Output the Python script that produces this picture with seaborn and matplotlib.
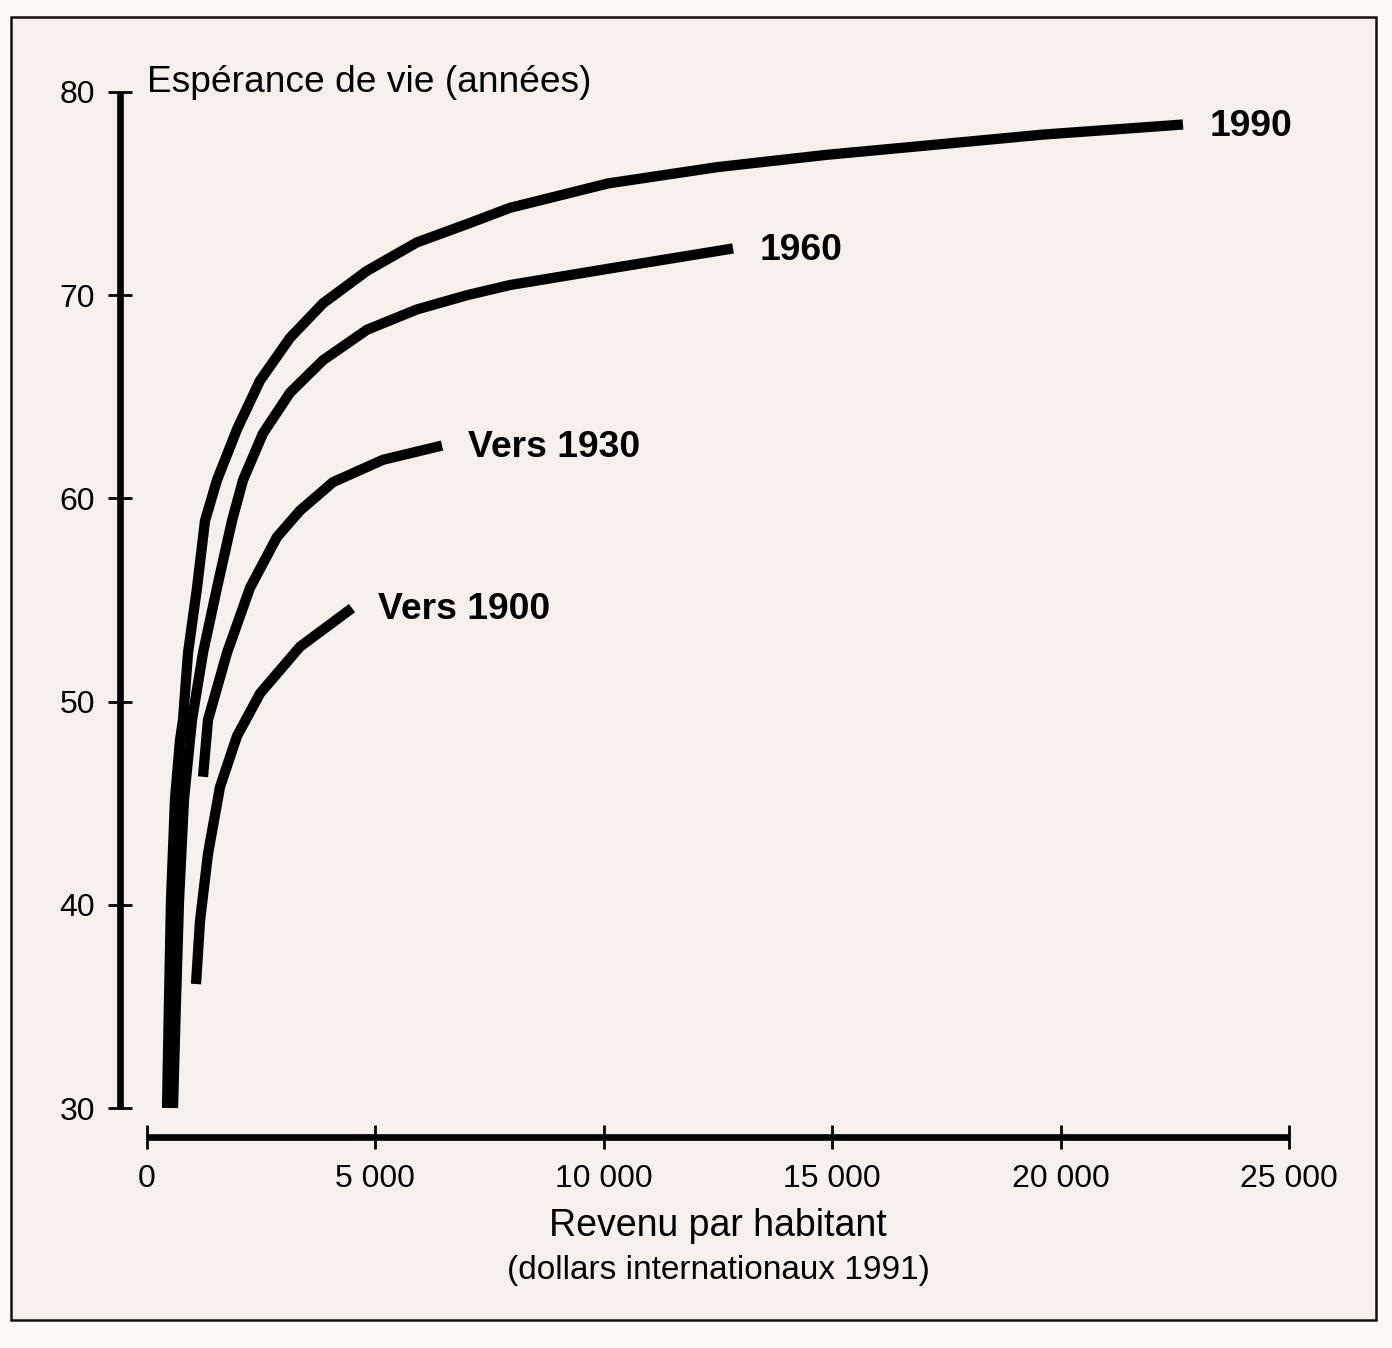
import matplotlib
matplotlib.use("Agg")
import matplotlib.pyplot as plt
import seaborn as sns
import pandas as pd
from matplotlib.patches import Rectangle

# income per head (1991 international dollars) and life expectancy (years)
inc_1990 = [438, 482, 525, 613, 722, 788, 898, 1095, 1270, 1532, 1970, 2474,
            3130, 3853, 4816, 5911, 7005, 7946, 10092, 12478, 14842, 17229,
            19593, 22679]
le_1990 = [30.0, 35.3, 40.2, 45.2, 48.1, 49.1, 52.4, 55.6, 58.9, 60.9, 63.4, 65.8,
           67.9, 69.6, 71.2, 72.6, 73.5, 74.3, 75.5, 76.3, 76.9, 77.4,
           77.9, 78.4]

inc_1960 = [569, 635, 701, 810, 985, 1226, 1532, 1861, 2102, 2539, 3130, 3853,
            4816, 5911, 7005, 7946, 10092, 12828]
le_1960 = [30.0, 35.3, 40.2, 45.2, 49.1, 52.4, 55.6, 58.9, 60.9, 63.2, 65.2, 66.8,
           68.3, 69.3, 70.0, 70.5, 71.3, 72.3]

inc_1930 = [1226, 1335, 1751, 2255, 2846, 3349, 4072, 5166, 6458]
le_1930 = [46.3, 49.1, 52.4, 55.6, 58.1, 59.4, 60.8, 61.9, 62.6]

inc_1900 = [1073, 1160, 1335, 1598, 1970, 2474, 3349, 4488]
le_1900 = [36.1, 39.2, 42.5, 45.8, 48.3, 50.4, 52.7, 54.6]

periods = ["1990", "1960", "Vers 1930", "Vers 1900"]
incomes = [inc_1990, inc_1960, inc_1930, inc_1900]
lifes = [le_1990, le_1960, le_1930, le_1900]

x_ticks = [0, 5000, 10000, 15000, 20000, 25000]
x_tick_labels = ["0", "5 000", "10 000", "15 000", "20 000", "25 000"]
y_ticks = [30, 40, 50, 60, 70, 80]

rows = []
for name, xs, ys in zip(periods, incomes, lifes):
    for xv, yv in zip(xs, ys):
        rows.append({"period": name, "revenu": xv, "esperance": yv})
df = pd.DataFrame(rows)

sns.set_theme(style="ticks")
plt.rcParams["font.family"] = ["Liberation Sans", "DejaVu Sans"]

W, H = 1392, 1348
fig = plt.figure(figsize=(W / 100, H / 100), dpi=100, facecolor="#fbfaf8")

# scanned frame
fig.patches.append(Rectangle((11 / W, 1 - 1320 / H), (1376 - 11) / W, (1320 - 17) / H,
                             transform=fig.transFigure, facecolor="#f6f0ec",
                             edgecolor="#111111", linewidth=1.8, zorder=-5))

ax = fig.add_axes([147 / W, 1 - 1108 / H, (1289 - 147) / W, (1108 - 92) / H])
ax.set_facecolor("none")
ax.set_zorder(2)

sns.lineplot(data=df, x="revenu", y="esperance", hue="period", units="period",
             estimator=None, sort=False, palette={p: "black" for p in periods},
             linewidth=7.4, legend=False, ax=ax, solid_capstyle="butt",
             solid_joinstyle="round", clip_on=False)

ax.set_xlim(0, 25000)
ax.set_ylim(30, 80)

for sp in ["top", "right"]:
    ax.spines[sp].set_visible(False)
ax.spines["left"].set_position(("outward", 19.5))
ax.spines["bottom"].set_position(("outward", 21))
ax.spines["left"].set_bounds(30, 80)
ax.spines["bottom"].set_bounds(0, 25000)
for sp in ["left", "bottom"]:
    ax.spines[sp].set_linewidth(4.8)
    ax.spines[sp].set_color("black")
    ax.spines[sp].set_capstyle("butt")

ax.set_xticks(x_ticks)
ax.set_xticklabels(x_tick_labels)
ax.set_yticks(y_ticks)
ax.tick_params(axis="both", direction="inout", length=17, width=2, color="black",
               labelsize=23, labelcolor="black")
ax.tick_params(axis="y", pad=9.5)
ax.tick_params(axis="x", pad=10.5)
ax.set_xlabel("")
ax.set_ylabel("")

# curve labels
for name, xs, ys in zip(periods, incomes, lifes):
    ax.annotate(name, xy=(xs[-1], ys[-1]), xytext=(19, -1.2), textcoords="offset points",
                ha="left", va="center", fontsize=26.8, fontweight="bold", color="black",
                annotation_clip=False)

fig.text(147 / W, 1 - 82 / H, "Espérance de vie (années)", ha="left", va="center",
         fontsize=26.7, color="black")
fig.text(718 / W, 1 - 1226 / H, "Revenu par habitant", ha="center", va="center",
         fontsize=27, color="black")
fig.text(718 / W, 1 - 1270 / H, "(dollars internationaux 1991)", ha="center", va="center",
         fontsize=24, color="black")

fig.savefig("out.png", dpi=100, facecolor=fig.get_facecolor())
